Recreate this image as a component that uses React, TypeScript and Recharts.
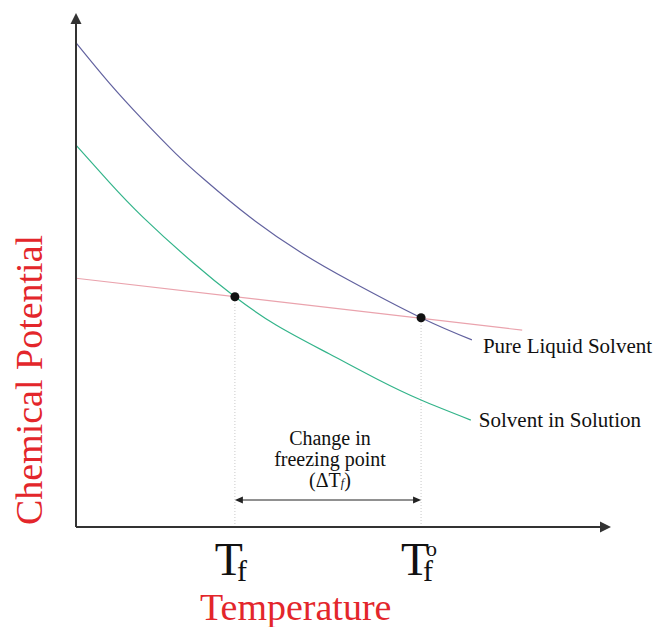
import React from 'react';
import { LineChart, Line, XAxis, YAxis, ReferenceLine, ReferenceDot } from 'recharts';

// temperature / chemical potential in arbitrary units
const pureTemp = [0, 6.2, 12.5, 18.7, 24.1, 32.5, 41.9, 51.2, 64.5, 74.0];
const pureMu = [94.2, 86.4, 79.2, 72.6, 67.5, 60.3, 53.5, 47.9, 40.7, 36.4];
const solnTemp = [0, 6.2, 12.5, 21.9, 29.7, 37.4, 47.3, 56.6, 64.5, 73.8];
const solnMu = [74.3, 67.1, 60.3, 51.4, 44.8, 39.3, 33.7, 28.6, 24.7, 20.8];
const solidTemp = [0, 83.4];
const solidMu = [48.4, 38.3];

const freezeTemps = [29.7, 64.5]; // Tf, Tf°
const freezeMus = [44.8, 40.7];
const tickLabels = ['Tf', 'Tf°'];
const arrowLevel = 5.25;

const pureData = pureTemp.map((t, i) => ({ t, mu: pureMu[i] }));
const solnData = solnTemp.map((t, i) => ({ t, mu: solnMu[i] }));
const solidData = solidTemp.map((t, i) => ({ t, mu: solidMu[i] }));

const serif = '"Liberation Serif", "Times New Roman", serif';
const red = '#e3262b';

const head = (x: number, y: number, ux: number, uy: number, len: number, half: number, fill: string) => {
  const bx = x - ux * len;
  const by = y - uy * len;
  return (
    <polygon
      points={`${x},${y} ${bx - uy * half},${by + ux * half} ${bx + uy * half},${by - ux * half}`}
      fill={fill}
    />
  );
};

const ArrowLine = (props: any) => {
  const { x1, y1, x2, y2, stroke, strokeWidth, len = 11, half = 5.5, both = false } = props;
  const dx = x2 - x1;
  const dy = y2 - y1;
  const d = Math.sqrt(dx * dx + dy * dy) || 1;
  const ux = dx / d;
  const uy = dy / d;
  const sx = both ? x1 + ux * (len - 1) : x1;
  const sy = both ? y1 + uy * (len - 1) : y1;
  return (
    <g>
      <line x1={sx} y1={sy} x2={x2 - ux * (len - 1)} y2={y2 - uy * (len - 1)} stroke={stroke} strokeWidth={strokeWidth} />
      {head(x2, y2, ux, uy, len, half, stroke)}
      {both && head(x1, y1, -ux, -uy, len, half, stroke)}
    </g>
  );
};

const TempTick = (props: any) => {
  const { x, y, index } = props;
  const label = tickLabels[index];
  return (
    <g fontFamily={serif} fill="#111">
      <text x={x - 6} y={y + 40} textAnchor="middle" fontSize={46}>T</text>
      <text x={x + 2} y={y + 46} fontSize={30}>f</text>
      {label.endsWith('°') && (
        <text x={x + 5} y={y + 21} fontSize={22}>o</text>
      )}
    </g>
  );
};

const endLabel = (text: string, count: number, dx: number, dy: number) => (p: any) => {
  if (p.index !== count - 1) return <g key={`d${p.index}`} />;
  return (
    <text key={`d${p.index}`} x={p.cx + dx} y={p.cy + dy} fontFamily={serif} fontSize={21} fill="#111">
      {text}
    </text>
  );
};

const GapNote = (props: any) => {
  const { x1, x2, y1 } = props;
  const cx = (x1 + x2) / 2 + 2;
  return (
    <g>
      <ArrowLine {...props} stroke="#222" strokeWidth={1} len={8} half={3.5} both />
      <g fontFamily={serif} fontSize={20} fill="#111" textAnchor="middle">
        <text x={cx} y={y1 - 55}>Change in</text>
        <text x={cx} y={y1 - 34}>freezing point</text>
        <text x={cx} y={y1 - 13}>
          (ΔT<tspan fontSize={12} fontStyle="italic">f</tspan>)
        </text>
      </g>
    </g>
  );
};

export default function App() {
  return (
    <div style={{ position: 'absolute', left: 0, top: 0, background: '#fff' }}>
      <LineChart width={657} height={627} margin={{ top: 13, right: 46, bottom: 0, left: 0 }}>
        <XAxis
          type="number"
          dataKey="t"
          domain={[0, 100]}
          ticks={freezeTemps}
          interval={0}
          height={100}
          axisLine={false}
          tickLine={false}
          tick={<TempTick />}
          label={{
            content: (p: any) => (
              <text x={p.viewBox.x + 124} y={p.viewBox.y + 93} fontFamily={serif} fontSize={38} fill={red}>
                Temperature
              </text>
            ),
          }}
        />
        <YAxis
          type="number"
          dataKey="mu"
          domain={[0, 100]}
          width={76}
          axisLine={false}
          tickLine={false}
          tick={false}
          label={{
            content: (p: any) => {
              const x = p.viewBox.x + 42;
              const y = p.viewBox.y + 367;
              return (
                <text x={x} y={y} transform={`rotate(-90 ${x} ${y})`} textAnchor="middle" fontFamily={serif} fontSize={38} fill={red}>
                  Chemical Potential
                </text>
              );
            },
          }}
        />

        {freezeTemps.map((t, i) => (
          <ReferenceLine
            key={`v${i}`}
            segment={[{ x: t, y: 0 }, { x: t, y: freezeMus[i] }]}
            stroke="#c9c9c9"
            strokeDasharray="1 2"
            ifOverflow="visible"
          />
        ))}

        <Line data={solidData} dataKey="mu" type="linear" stroke="#eaa3ad" strokeWidth={1.2} dot={false} isAnimationActive={false} />
        <Line
          data={pureData}
          dataKey="mu"
          type="natural"
          stroke="#62629f"
          strokeWidth={1.2}
          dot={endLabel('Pure Liquid Solvent', pureData.length, 11, 13)}
          isAnimationActive={false}
        />
        <Line
          data={solnData}
          dataKey="mu"
          type="natural"
          stroke="#33b48a"
          strokeWidth={1.2}
          dot={endLabel('Solvent in Solution', solnData.length, 8, 7)}
          isAnimationActive={false}
        />

        {freezeTemps.map((t, i) => (
          <ReferenceDot key={`p${i}`} x={t} y={freezeMus[i]} r={4.5} fill="#111" stroke="none" ifOverflow="visible" />
        ))}

        <ReferenceLine
          segment={[{ x: freezeTemps[0], y: arrowLevel }, { x: freezeTemps[1], y: arrowLevel }]}
          ifOverflow="visible"
          shape={(p: any) => <GapNote {...p} />}
        />

        <ReferenceLine
          segment={[{ x: 0, y: 0 }, { x: 100, y: 0 }]}
          ifOverflow="visible"
          shape={(p: any) => <ArrowLine {...p} stroke="#333" strokeWidth={2} />}
        />
        <ReferenceLine
          segment={[{ x: 0, y: 0 }, { x: 0, y: 100 }]}
          ifOverflow="visible"
          shape={(p: any) => <ArrowLine {...p} stroke="#333" strokeWidth={2} />}
        />
      </LineChart>
    </div>
  );
}
